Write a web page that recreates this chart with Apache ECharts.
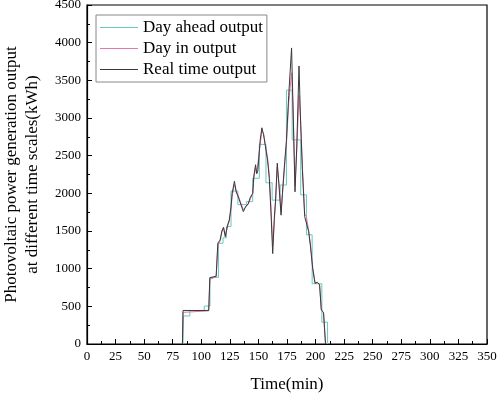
<!DOCTYPE html>
<html>
<head>
<meta charset="utf-8">
<script src="https://cdn.jsdelivr.net/npm/echarts@6/dist/echarts.min.js"></script>
<style>
  html, body { margin: 0; padding: 0; background: #fff; }
  #chart { width: 498px; height: 394px; }
</style>
</head>
<body>
<div id="chart"></div>
<script>
// day ahead plan, piecewise constant (value holds from t until next t)
var aheadTimes = [84, 84.5, 90, 102.6, 107.6, 115, 119, 122, 126, 132, 139.5, 145, 150.8, 156.6, 162, 169, 174.5, 179.5, 187, 192, 197, 205.5, 210.5];
var aheadValues = [0, 372, 442, 504, 885, 1337, 1410, 1560, 2030, 1850, 1890, 2200, 2650, 2140, 1910, 2110, 3370, 2710, 1980, 1450, 800, 290, 0];

// real time / day in share the same minutes
var rtTimes = [83.5, 84, 106.5, 107.5, 113, 114.5, 116.5, 118, 119.5, 121, 123, 124.5, 126, 127, 129, 130.5, 131.5, 132.8, 134, 136.8, 139, 141, 143, 145, 146, 147.5, 148.5, 149.5, 151.5, 153, 154.5, 156, 158, 159.5, 161, 162.5, 164, 165, 166.5, 168, 169.8, 171, 173, 174.5, 176.5, 179, 180.5, 182, 183.5, 185.5, 187, 188.5, 190.5, 192, 194, 195.5, 197.5, 199.5, 201.5, 203.5, 205, 207, 208.7];
var realTime = [0, 445, 445, 880, 900, 1340, 1380, 1500, 1550, 1424, 1580, 1646, 1823, 2000, 2160, 2020, 2040, 1934, 1950, 1757, 1830, 1860, 1950, 2000, 2230, 2380, 2260, 2300, 2700, 2870, 2780, 2800, 2440, 2200, 1740, 1200, 1700, 1910, 2400, 2100, 1710, 2000, 2420, 2700, 3300, 3930, 3000, 2020, 2600, 3690, 2900, 2300, 1690, 1700, 1490, 1300, 1000, 805, 820, 790, 450, 420, 0];
var dayIn = [0, 420, 440, 860, 890, 1310, 1370, 1480, 1540, 1440, 1560, 1630, 1790, 1960, 2120, 2040, 2030, 1950, 1940, 1780, 1820, 1850, 1930, 1990, 2200, 2340, 2270, 2280, 2650, 2820, 2790, 2780, 2470, 2250, 1800, 1300, 1650, 1880, 2350, 2130, 1750, 1980, 2380, 2650, 3200, 3600, 3050, 2100, 2550, 3300, 2950, 2350, 1720, 1690, 1500, 1320, 1020, 820, 810, 780, 470, 400, 0];

var xTicks = { min: 0, max: 350, step: 25 };
var yTicks = { min: 0, max: 4500, step: 500 };

function pairs(xs, ys) {
  var out = [];
  for (var i = 0; i < xs.length; i++) out.push([xs[i], ys[i]]);
  return out;
}

var chart = echarts.init(document.getElementById('chart'));
var font = 'Liberation Serif, Times New Roman, serif';
var lineIcon = 'path://M0,0 L40,0 L40,1 L0,1 Z';

chart.setOption({
  animation: false,
  grid: {
    left: 87, right: 11, top: 5, bottom: 50,
    containLabel: false,
    outerBoundsMode: 'none',
    show: true, borderColor: '#000', borderWidth: 1.2, backgroundColor: 'transparent'
  },
  legend: {
    orient: 'vertical',
    left: 96, top: 15,
    padding: [4, 4, 4, 4],
    itemGap: 4,
    itemWidth: 38, itemHeight: 1,
    borderColor: '#888', borderWidth: 1,
    textStyle: { fontFamily: font, fontSize: 17, color: '#000' },
    data: [
      { name: 'Day ahead output', icon: lineIcon },
      { name: 'Day in output', icon: lineIcon },
      { name: 'Real time output', icon: lineIcon }
    ]
  },
  xAxis: {
    type: 'value',
    min: xTicks.min, max: xTicks.max, interval: xTicks.step,
    name: 'Time(min)',
    nameLocation: 'middle', nameGap: 32,
    nameTextStyle: { fontFamily: font, fontSize: 17, color: '#000' },
    axisLine: { lineStyle: { color: '#000', width: 1.2 } },
    axisTick: { inside: true, length: 5, lineStyle: { color: '#000' } },
    minorTick: { show: true, splitNumber: 2, length: 3, lineStyle: { color: '#000' } },
    axisLabel: { fontFamily: font, fontSize: 13, color: '#000', margin: 6 },
    splitLine: { show: false }
  },
  yAxis: {
    type: 'value',
    min: yTicks.min, max: yTicks.max, interval: yTicks.step,
    name: 'Photovoltaic power generation output\nat different time scales(kWh)',
    nameLocation: 'middle', nameGap: 44,
    nameTextStyle: { fontFamily: font, fontSize: 17, color: '#000', lineHeight: 21 },
    axisLine: { lineStyle: { color: '#000', width: 1.2 } },
    axisTick: { inside: true, length: 5, lineStyle: { color: '#000' } },
    minorTick: { show: true, splitNumber: 2, length: 3, lineStyle: { color: '#000' } },
    axisLabel: {
      fontFamily: font, fontSize: 13, color: '#000', margin: 6,
      formatter: function (v) { return String(v); }
    },
    splitLine: { show: false }
  },
  series: [
    {
      name: 'Day ahead output',
      type: 'line',
      step: 'end',
      symbol: 'none',
      data: pairs(aheadTimes, aheadValues),
      lineStyle: { color: '#67c8c0', width: 1 },
      itemStyle: { color: '#67c8c0' }
    },
    {
      name: 'Day in output',
      type: 'line',
      symbol: 'none',
      data: pairs(rtTimes, dayIn),
      lineStyle: { color: '#e07aae', width: 1 },
      itemStyle: { color: '#e07aae' }
    },
    {
      name: 'Real time output',
      type: 'line',
      symbol: 'none',
      data: pairs(rtTimes, realTime),
      lineStyle: { color: '#3a3a3a', width: 1 },
      itemStyle: { color: '#3a3a3a' }
    }
  ]
});
</script>
</body>
</html>
